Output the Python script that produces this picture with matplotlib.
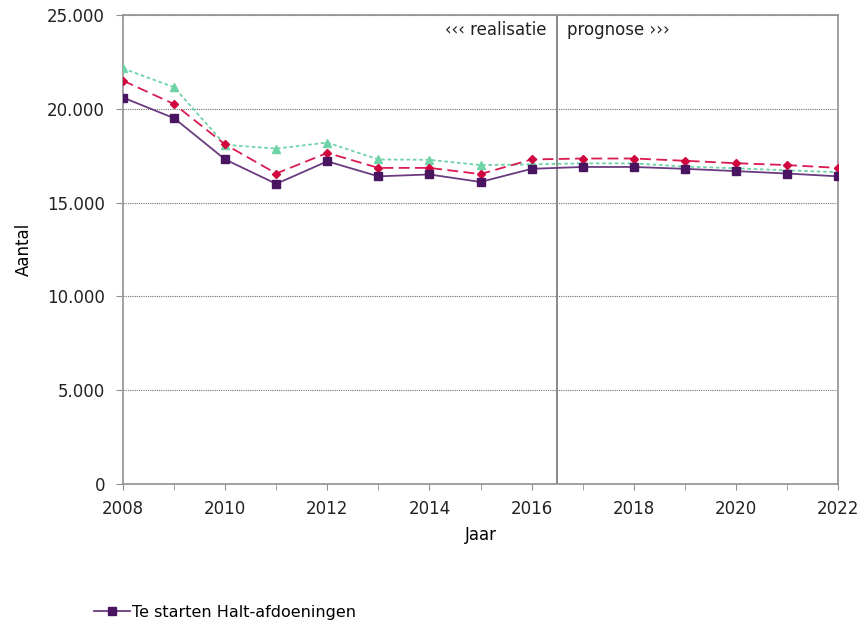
import matplotlib
matplotlib.use("Agg")
import matplotlib.pyplot as plt
from matplotlib.ticker import FuncFormatter, MultipleLocator

years = list(range(2008, 2023))
te_starten = [20600, 19500, 17300, 16000, 17200, 16400, 16500, 16100, 16800, 16900, 16900, 16800, 16680, 16550, 16400]
serie_rood = [21500, 20250, 18100, 16550, 17650, 16850, 16850, 16520, 17300, 17350, 17350, 17230, 17100, 17000, 16850]
serie_groen = [22150, 21150, 18080, 17880, 18200, 17300, 17280, 17000, 17040, 17090, 17090, 16920, 16830, 16720, 16620]
split_year = 2016.5

plt.rcParams['font.family'] = ['DejaVu Sans']
fig = plt.figure(figsize=(8.65, 6.25), dpi=100)
ax = fig.add_axes([123/865, 141/625, 715/865, 469/625])

ax.plot(years, serie_groen, color='#6FD3A8', linestyle=(0, (2, 1.5)), linewidth=1.3,
        marker='^', markersize=6, markerfacecolor='#6FD3A8', markeredgecolor='#6FD3A8', zorder=3)
ax.plot(years, serie_rood, color='#D81B50', linestyle=(0, (6, 3)), linewidth=1.3,
        marker='D', markersize=4.5, markerfacecolor='#D0063F', markeredgecolor='#D0063F', zorder=3)
ax.plot(years, te_starten, color='#6B3A80', linestyle='-', linewidth=1.3,
        marker='s', markersize=6, markerfacecolor='#4A1560', markeredgecolor='#4A1560', zorder=4,
        label='Te starten Halt-afdoeningen')

ax.axvline(split_year, color='#808080', linewidth=1.3, zorder=2)

ax.set_xlim(2008, 2022)
ax.set_ylim(0, 25000)
ax.set_xticks(range(2008, 2023, 2))
ax.xaxis.set_minor_locator(MultipleLocator(1))
ax.set_yticks(range(0, 25001, 5000))
ax.yaxis.set_major_formatter(FuncFormatter(lambda v, p: f"{int(v):,}".replace(",", ".")))
ax.grid(axis='y', color='#707070', linestyle=(0, (1, 1)), linewidth=0.8)
ax.set_axisbelow(True)
for s in ax.spines.values():
    s.set_color('#909090')
    s.set_linewidth(1.2)
ax.tick_params(axis='both', which='both', labelsize=12, color='#909090', direction='out', labelcolor='#222222')
ax.tick_params(axis='x', which='major', length=4, pad=7.5)
ax.tick_params(axis='x', which='minor', length=4)
ax.tick_params(axis='y', length=5, pad=8)

ax.set_xlabel('Jaar', fontsize=12, labelpad=6)
ax.set_ylabel('Aantal', fontsize=12, labelpad=10)

ax.text(split_year - 0.2, 24200, '‹‹‹ realisatie', ha='right', va='center', fontsize=12, color='#222222')
ax.text(split_year + 0.2, 24200, 'prognose ›››', ha='left', va='center', fontsize=12, color='#222222')

fig.legend(loc='center left', bbox_to_anchor=(80/865, 1 - 612/625), frameon=False, fontsize=11.5,
           handlelength=2.2, handletextpad=0.15)

fig.savefig('out.png', dpi=100)
